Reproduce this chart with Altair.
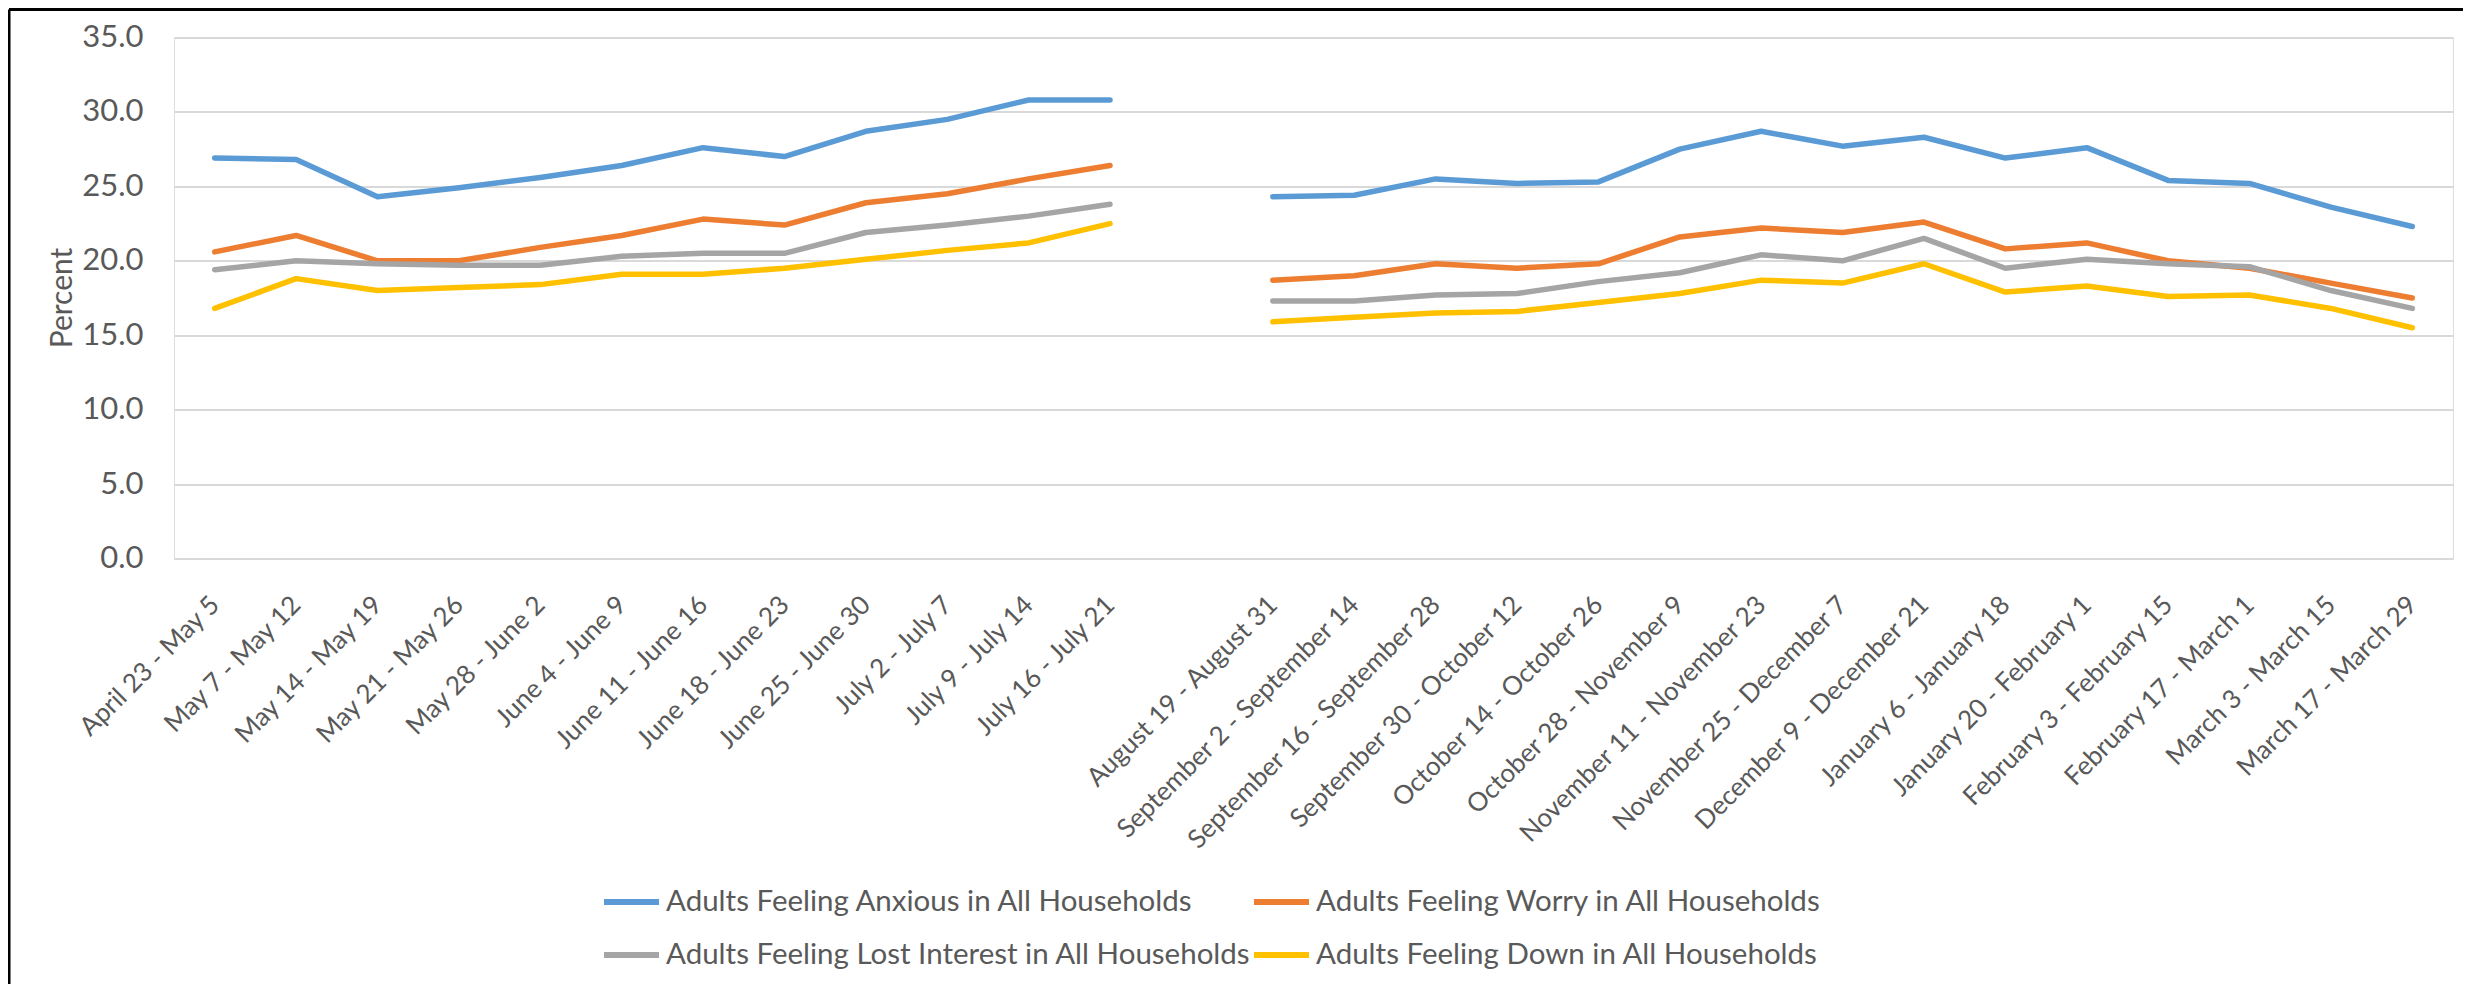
import altair as alt
import pandas as pd

periods = [
    "April 23 - May 5", "May 7 - May 12", "May 14 - May 19", "May 21 - May 26",
    "May 28 - June 2", "June 4 - June 9", "June 11 - June 16", "June 18 - June 23",
    "June 25 - June 30", "July 2 - July 7", "July 9 - July 14", "July 16 - July 21",
    "August 19 - August 31", "September 2 - September 14", "September 16 - September 28",
    "September 30 - October 12", "October 14 - October 26", "October 28 - November 9",
    "November 11 - November 23", "November 25 - December 7", "December 9 - December 21",
    "January 6 - January 18", "January 20 - February 1", "February 3 - February 15",
    "February 17 - March 1", "March 3  - March 15", "March 17 - March 29",
]
gap_label = " "
phase1_count = 12

series_names = [
    "Adults Feeling Anxious in All Households",
    "Adults Feeling Worry in All Households",
    "Adults Feeling Lost Interest in All Households",
    "Adults Feeling Down in All Households",
]
series_colors = ["#5B9BD5", "#ED7D31", "#A5A5A5", "#FFC000"]
# legend is laid out column by column: Anxious / Lost Interest, then Worry / Down
legend_order = [series_names[0], series_names[2], series_names[1], series_names[3]]
legend_colors = [series_colors[0], series_colors[2], series_colors[1], series_colors[3]]

anxious = [26.9, 26.8, 24.3, 24.9, 25.6, 26.4, 27.6, 27.0, 28.7, 29.5, 30.8, 30.8,
           24.3, 24.4, 25.5, 25.2, 25.3, 27.5, 28.7, 27.7, 28.3, 26.9, 27.6, 25.4, 25.2, 23.6, 22.3]
worry = [20.6, 21.7, 20.0, 20.0, 20.9, 21.7, 22.8, 22.4, 23.9, 24.5, 25.5, 26.4,
         18.7, 19.0, 19.8, 19.5, 19.8, 21.6, 22.2, 21.9, 22.6, 20.8, 21.2, 20.0, 19.5, 18.5, 17.5]
lost_interest = [19.4, 20.0, 19.8, 19.7, 19.7, 20.3, 20.5, 20.5, 21.9, 22.4, 23.0, 23.8,
                 17.3, 17.3, 17.7, 17.8, 18.6, 19.2, 20.4, 20.0, 21.5, 19.5, 20.1, 19.8, 19.6, 18.0, 16.8]
down = [16.8, 18.8, 18.0, 18.2, 18.4, 19.1, 19.1, 19.5, 20.1, 20.7, 21.2, 22.5,
        15.9, 16.2, 16.5, 16.6, 17.2, 17.8, 18.7, 18.5, 19.8, 17.9, 18.3, 17.6, 17.7, 16.8, 15.5]

y_ticks = [0, 5, 10, 15, 20, 25, 30, 35]

rows = []
for name, vals in zip(series_names, [anxious, worry, lost_interest, down]):
    for i, (p, v) in enumerate(zip(periods, vals)):
        rows.append({"period": p, "value": v, "series": name,
                     "segment": 1 if i < phase1_count else 2})
df = pd.DataFrame(rows)

x_domain = periods[:phase1_count] + [gap_label] + periods[phase1_count:]

FONT = "Lato, sans-serif"
TXT = "#595959"

lines = alt.Chart(df).mark_line(strokeWidth=5.5, strokeCap="round", strokeJoin="round").encode(
    x=alt.X("period:N", scale=alt.Scale(type="point", domain=x_domain, padding=0.5),
            axis=alt.Axis(title=None, labelAngle=-45, labelAlign="right", labelBaseline="middle",
                          labelPadding=42, ticks=False, tickSize=0, domain=False, grid=False,
                          labelFontSize=26, labelColor=TXT, labelFont=FONT, labelLimit=600)),
    y=alt.Y("value:Q", scale=alt.Scale(domain=[0, 35], nice=False, zero=True),
            axis=alt.Axis(title="Percent", values=y_ticks, format=".1f", ticks=False, tickSize=0,
                          domain=False, grid=True, gridColor="#D9D9D9", gridWidth=2,
                          labelPadding=31, labelFontSize=31, labelColor=TXT, labelFont=FONT,
                          titleFont=FONT, titleFontSize=30, titleColor=TXT, titleFontWeight="normal",
                          titleAngle=270, titleX=-112, titleY=260, titleAlign="center",
                          titleBaseline="middle")),
    color=alt.Color("series:N", scale=alt.Scale(domain=legend_order, range=legend_colors),
                    legend=alt.Legend(title=None, orient="none", legendX=427, legendY=834,
                                      columns=2, symbolType="stroke", symbolSize=3025,
                                      symbolStrokeWidth=6, labelFontSize=29.5, labelColor=TXT,
                                      labelFont=FONT, labelOffset=4, columnPadding=-12,
                                      rowPadding=8, padding=0, labelLimit=800)),
    detail="segment:N",
)

frame_src = pd.DataFrame({"k": [0]})
top_border = alt.Chart(frame_src).mark_rule(color="black", strokeWidth=3).encode(
    x=alt.value(-165), x2=alt.value(2300), y=alt.value(-28), y2=alt.value(-28))
left_border = alt.Chart(frame_src).mark_rule(color="black", strokeWidth=3).encode(
    x=alt.value(-165), x2=alt.value(-165), y=alt.value(-28), y2=alt.value(960))

chart = alt.layer(lines, top_border, left_border).properties(
    width=2279, height=521,
    autosize=alt.AutoSizeParams(type="none"),
    padding={"left": 166, "top": 29.5, "right": 10, "bottom": 425},
).configure_view(stroke=None).configure(background="white")

chart.save("out.html", embed_options={"renderer": "svg", "actions": False})
